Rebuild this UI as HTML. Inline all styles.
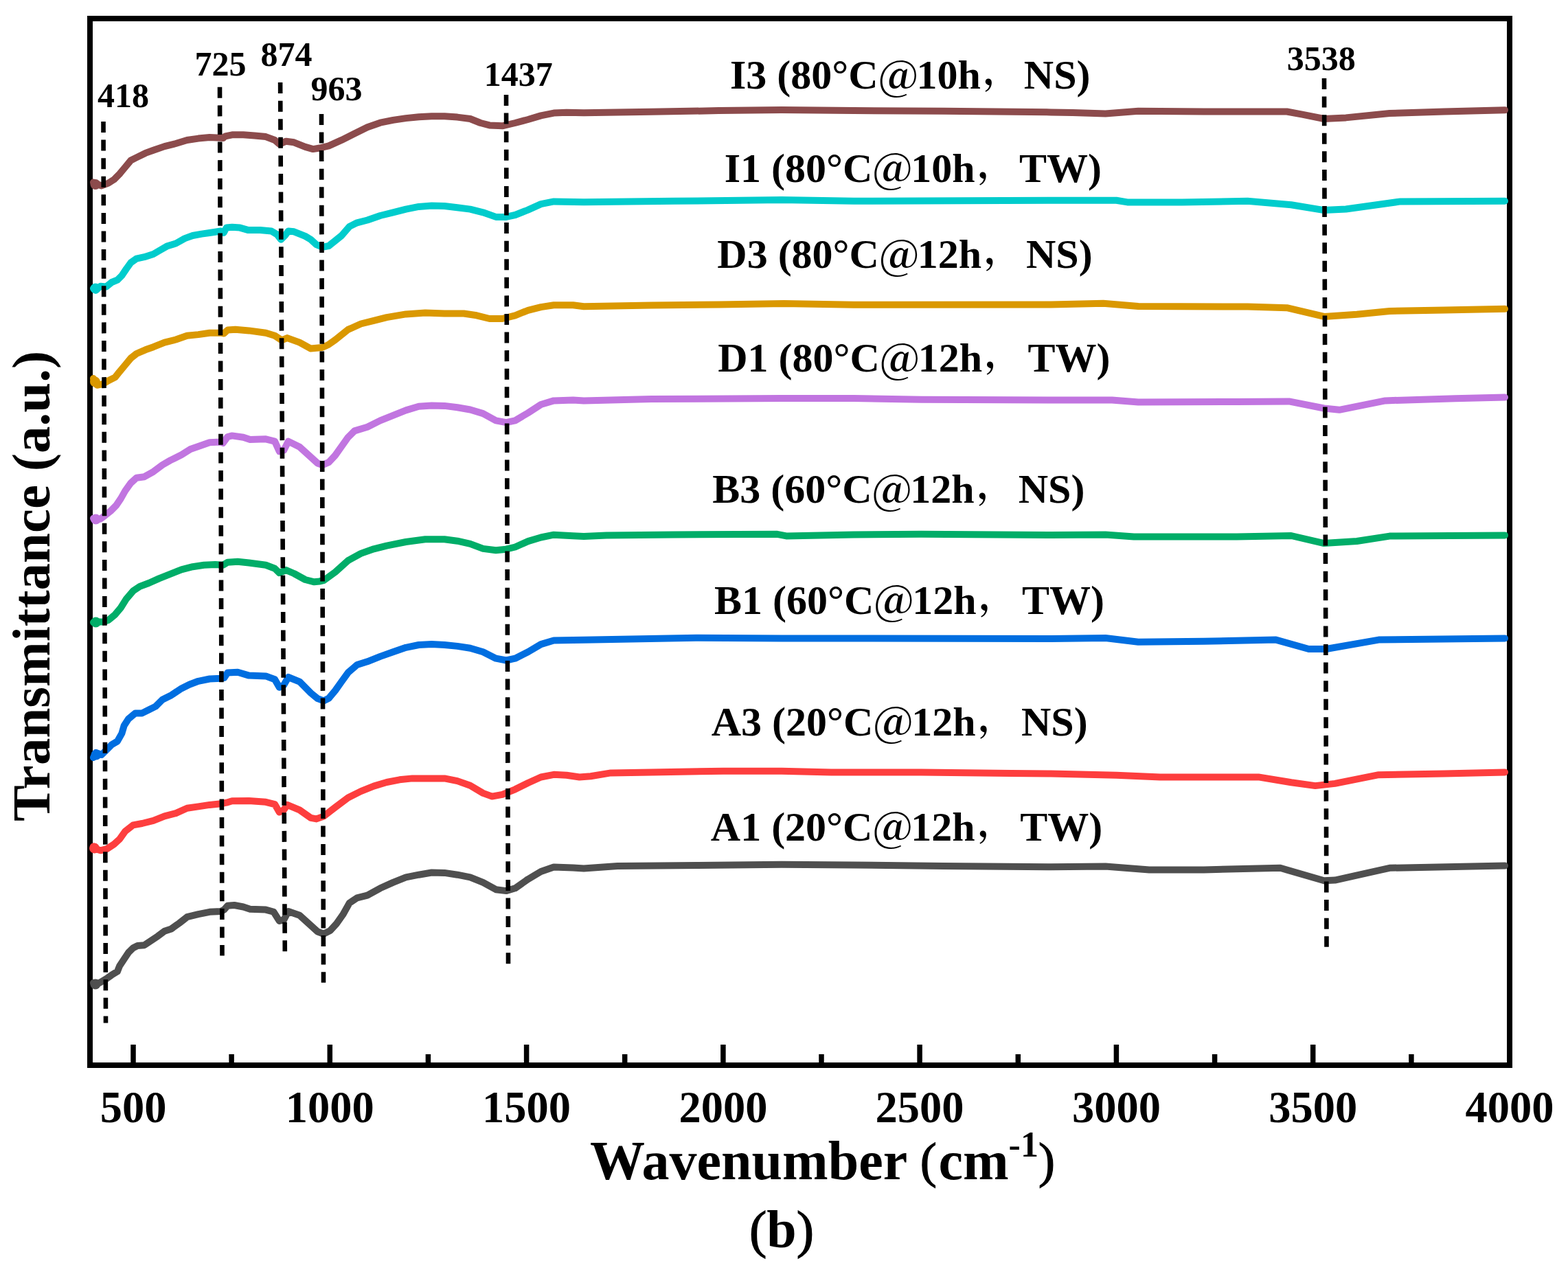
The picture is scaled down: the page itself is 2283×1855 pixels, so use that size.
<!DOCTYPE html>
<html><head><meta charset="utf-8"><title>FTIR spectra</title>
<style>
html,body{margin:0;padding:0;background:#fff;}
svg{display:block;}
text{font-family:"Liberation Serif","Noto Serif CJK SC",serif;font-weight:bold;fill:#000;}
.pr{font-weight:normal;stroke:#000;stroke-width:1.3px;}
.at{font-family:"Noto Serif CJK SC",serif;letter-spacing:-2.4px;}
.cj{font-family:"Noto Serif CJK SC","Liberation Serif",serif;}
</style></head><body>
<svg width="2283" height="1855" viewBox="0 0 2283 1855">
<rect width="2283" height="1855" fill="#fff"/>
<rect x="131" y="27" width="2067" height="1524" fill="none" stroke="#000" stroke-width="8"/>
<path d="M194.0 1548V1521 M480.3 1548V1521 M766.6 1548V1521 M1052.9 1548V1521 M1339.1 1548V1521 M1625.4 1548V1521 M1911.7 1548V1521 M337.1 1548V1535 M623.4 1548V1535 M909.7 1548V1535 M1196.0 1548V1535 M1482.3 1548V1535 M1768.6 1548V1535 M2054.9 1548V1535" stroke="#000" stroke-width="7.5" fill="none"/>
<g font-size="64.5" text-anchor="middle"><text x="194.0" y="1634">500</text><text x="480.3" y="1634">1000</text><text x="766.6" y="1634">1500</text><text x="1052.9" y="1634">2000</text><text x="1339.1" y="1634">2500</text><text x="1625.4" y="1634">3000</text><text x="1911.7" y="1634">3500</text><text x="2198.0" y="1634">4000</text></g>
<text x="859" y="1716.5" font-size="80">Wavenumber <tspan class="pr" font-size="72" dy="-3">(</tspan><tspan dy="3" dx="2.7">cm</tspan><tspan font-size="52" dy="-33">-1</tspan><tspan class="pr" font-size="72" dy="30">)</tspan></text>
<text x="1138" y="1816" font-size="78" text-anchor="middle"><tspan class="pr" font-size="76">(</tspan>b<tspan class="pr" font-size="76">)</tspan></text>
<text transform="translate(72 1196) rotate(-90)" font-size="79">Transmittance (a.u.)</text>
<g font-size="50"><text x="142.1" y="155.5">418</text><text x="283.5" y="110.4">725</text><text x="379.6" y="95.5">874</text><text x="452.5" y="145.9">963</text><text x="704.7" y="125.0">1437</text><text x="1873.8" y="101.9">3538</text></g>
<g font-size="60"><text x="1063.0" y="129.2">I3 (80°C<tspan class="at" dy="2.3">@</tspan><tspan dy="-2.3">10h</tspan><tspan class="cj" font-size="52" dx="4" dy="-7">，</tspan><tspan x="1490.8" dy="7">NS)</tspan></text><text x="1054.7" y="264.7">I1 (80°C<tspan class="at" dy="2.3">@</tspan><tspan dy="-2.3">10h</tspan><tspan class="cj" font-size="52" dx="4" dy="-7">，</tspan><tspan x="1484.0" dy="7">TW)</tspan></text><text x="1044.3" y="390.4">D3 (80°C<tspan class="at" dy="2.3">@</tspan><tspan dy="-2.3">12h</tspan><tspan class="cj" font-size="52" dx="4" dy="-7">，</tspan><tspan x="1494.0" dy="7">NS)</tspan></text><text x="1045.2" y="541.2">D1 (80°C<tspan class="at" dy="2.3">@</tspan><tspan dy="-2.3">12h</tspan><tspan class="cj" font-size="52" dx="4" dy="-7">，</tspan><tspan x="1496.6" dy="7">TW)</tspan></text><text x="1037.2" y="732.3">B3 (60°C<tspan class="at" dy="2.3">@</tspan><tspan dy="-2.3">12h</tspan><tspan class="cj" font-size="52" dx="4" dy="-7">，</tspan><tspan x="1482.7" dy="7">NS)</tspan></text><text x="1040.0" y="893.9">B1 (60°C<tspan class="at" dy="2.3">@</tspan><tspan dy="-2.3">12h</tspan><tspan class="cj" font-size="52" dx="4" dy="-7">，</tspan><tspan x="1488.0" dy="7">TW)</tspan></text><text x="1035.7" y="1071.1">A3 (20°C<tspan class="at" dy="2.3">@</tspan><tspan dy="-2.3">12h</tspan><tspan class="cj" font-size="52" dx="4" dy="-7">，</tspan><tspan x="1487.0" dy="7">NS)</tspan></text><text x="1034.8" y="1223.9">A1 (20°C<tspan class="at" dy="2.3">@</tspan><tspan dy="-2.3">12h</tspan><tspan class="cj" font-size="52" dx="4" dy="-7">，</tspan><tspan x="1485.2" dy="7">TW)</tspan></text></g>
<polyline points="136.0,265.5 139.7,267.9 147.9,270.4 157.8,266.6 166.0,261.4 174.1,253.2 182.3,243.4 190.5,233.5 198.7,229.4 211.8,222.9 223.3,218.8 239.6,213.1 256.0,209.0 272.4,204.0 288.8,201.6 305.2,200.0 321.5,200.8 325.0,201.0 328.1,198.3 337.9,196.3 354.3,196.3 370.7,197.5 387.0,199.1 400.1,204.0 406.7,209.8 416.5,205.7 428.0,207.3 444.4,213.9 455.8,217.1 465.6,215.5 478.7,212.4 497.4,203.9 516.2,194.6 534.9,185.2 553.6,178.7 572.3,174.9 591.0,172.1 609.7,170.2 628.5,169.3 647.2,169.3 665.9,170.6 684.6,173.0 699.6,179.0 712.7,182.4 731.4,183.3 750.1,179.0 768.8,174.0 787.6,168.4 806.3,164.6 825.0,163.7 850.0,164.2 948.0,162.8 1046.5,161.1 1138.0,160.1 1243.0,161.1 1374.0,161.8 1530.0,163.4 1561.8,164.0 1609.6,165.6 1657.3,161.8 1752.7,162.5 1873.7,162.5 1896.0,166.6 1927.8,173.0 1959.6,171.4 2023.2,165.0 2102.8,162.5 2191.0,160.2" fill="none" stroke="#8c4b4c" stroke-width="10" stroke-linejoin="round" stroke-linecap="round"/>
<polyline points="136.0,420.0 139.7,422.5 146.3,416.8 154.5,417.6 162.7,411.0 170.9,407.7 177.4,401.2 184.0,391.4 190.5,382.4 198.7,376.6 210.2,374.2 223.3,370.0 233.1,364.3 242.9,358.6 256.0,354.5 269.1,347.1 280.6,343.0 293.7,340.6 305.2,339.0 321.5,336.5 325.6,339.0 329.7,331.6 337.9,330.8 349.4,331.6 360.8,334.9 378.8,334.9 395.2,336.5 403.4,341.4 409.1,348.8 414.9,343.0 419.8,336.5 428.0,337.3 444.4,343.9 452.5,348.8 460.7,356.2 469.4,359.8 478.7,358.0 488.1,350.5 497.4,343.0 508.7,329.9 519.9,324.3 534.9,320.5 553.6,314.0 572.3,309.3 591.0,304.6 609.7,300.9 628.5,299.6 647.2,300.0 665.9,302.2 684.6,304.6 703.3,309.3 722.0,315.9 737.0,315.9 750.1,313.0 768.8,305.6 787.6,297.1 806.3,293.4 850.0,294.2 981.0,292.8 1138.0,291.1 1243.0,292.8 1530.0,291.8 1625.5,291.8 1641.4,294.4 1721.0,294.4 1816.4,292.8 1880.0,298.2 1927.8,306.1 1959.6,304.5 2039.0,293.4 2191.0,292.8" fill="none" stroke="#00cccc" stroke-width="10" stroke-linejoin="round" stroke-linecap="round"/>
<polyline points="136.0,551.0 136.5,554.3 141.4,560.8 149.6,559.2 157.8,554.3 167.6,549.4 174.1,541.2 182.3,531.4 190.5,521.5 198.7,515.0 211.8,509.3 223.3,505.2 239.6,498.6 256.0,494.5 272.4,488.8 288.8,487.1 305.2,484.7 321.5,484.7 326.0,485.5 331.4,480.6 342.8,479.8 362.5,481.4 387.0,484.7 400.1,488.8 410.0,495.3 418.2,492.1 436.2,498.6 452.5,507.6 468.9,506.0 478.0,502.0 488.1,494.9 506.8,479.9 525.5,471.5 544.2,466.8 563.0,462.1 591.0,457.4 619.1,455.6 647.2,456.5 675.3,456.5 694.0,459.3 712.7,464.0 731.4,464.0 750.1,459.3 768.8,451.8 787.6,447.1 806.3,444.3 834.4,444.3 850.0,446.2 948.3,444.4 1046.5,443.4 1141.5,442.1 1243.0,443.7 1530.0,443.4 1606.4,441.8 1657.3,446.0 1816.4,446.6 1873.7,448.2 1927.8,460.9 1975.5,457.7 2023.2,453.0 2102.8,451.4 2191.0,449.8" fill="none" stroke="#da9800" stroke-width="10" stroke-linejoin="round" stroke-linecap="round"/>
<polyline points="136.0,754.8 138.1,757.2 146.3,755.6 152.8,750.7 161.0,744.1 169.2,735.9 175.8,726.1 182.3,714.6 190.5,703.2 198.7,695.8 210.2,694.2 223.3,686.8 236.4,677.0 247.8,670.4 264.2,662.2 277.3,654.0 288.8,650.0 305.2,644.2 321.5,643.4 324.8,645.0 331.4,636.0 337.9,634.4 354.3,636.8 364.1,640.1 387.0,639.3 400.1,642.6 406.7,657.3 413.2,655.7 419.8,642.6 436.2,650.8 452.5,665.5 462.4,674.5 469.4,677.0 478.7,673.2 488.1,663.0 497.4,649.8 506.8,636.7 516.2,627.4 534.9,621.8 553.6,612.4 572.3,604.9 591.0,597.4 609.7,591.8 628.5,590.5 647.2,590.9 665.9,593.3 684.6,596.5 703.3,602.1 722.0,612.4 737.0,615.2 750.1,612.4 768.8,601.2 787.6,589.0 806.3,583.4 834.4,582.5 850.0,583.5 948.3,581.1 1138.2,580.1 1243.0,580.1 1341.3,581.8 1530.0,582.5 1619.1,582.5 1657.3,585.6 1800.5,585.0 1876.8,584.4 1927.8,594.5 1950.0,596.8 2016.9,583.4 2118.7,580.2 2191.0,578.6" fill="none" stroke="#c175e0" stroke-width="10" stroke-linejoin="round" stroke-linecap="round"/>
<polyline points="136.0,906.3 141.4,905.5 149.6,905.5 157.8,903.0 167.6,894.8 175.8,885.0 184.0,871.9 193.8,860.4 203.6,853.9 216.7,849.0 231.5,842.4 247.8,835.9 264.2,829.3 280.6,825.2 297.0,822.8 313.3,821.9 324.8,822.8 331.4,818.7 346.1,817.8 362.5,819.5 387.0,822.8 400.1,827.7 406.7,834.2 416.5,830.1 428.0,835.0 444.4,844.0 457.5,847.3 465.0,846.5 471.2,845.2 488.1,833.0 506.8,816.2 525.5,805.9 544.2,799.3 563.0,794.6 591.0,789.0 619.1,785.3 647.2,785.3 665.9,787.7 684.6,791.8 703.3,798.9 722.0,801.2 737.0,799.7 750.1,796.5 768.8,788.1 787.6,782.5 806.3,778.7 834.4,780.2 850.0,781.0 882.8,779.4 981.0,778.4 1131.7,777.8 1144.8,780.4 1243.0,778.4 1341.3,777.8 1530.0,779.0 1609.6,778.4 1650.9,781.6 1800.5,781.6 1880.0,780.0 1927.8,791.1 1975.5,788.0 2023.2,780.6 2191.0,779.4" fill="none" stroke="#00ad68" stroke-width="10" stroke-linejoin="round" stroke-linecap="round"/>
<polyline points="136.0,1103.1 139.7,1095.8 147.9,1099.0 154.5,1092.5 162.7,1084.3 170.9,1079.4 177.4,1067.9 180.7,1056.5 187.2,1046.6 197.1,1038.4 206.9,1038.4 216.7,1033.5 226.5,1028.6 236.4,1018.8 249.5,1012.2 264.2,1002.4 275.7,996.7 288.8,991.8 305.2,988.5 321.5,987.7 326.4,986.8 331.4,979.5 346.1,978.7 362.5,983.6 387.0,984.4 400.1,989.3 406.7,1000.8 413.2,997.5 419.8,986.0 436.2,992.6 452.5,1009.0 462.4,1017.1 471.2,1020.4 478.7,1016.7 488.1,1005.5 497.4,992.4 506.8,979.3 519.9,968.0 534.9,963.3 553.6,955.9 572.3,949.3 591.0,942.8 609.7,939.0 628.5,938.1 647.2,939.0 665.9,940.9 684.6,943.7 703.3,949.3 722.0,958.7 737.0,961.5 750.1,958.7 768.8,949.3 787.6,938.1 806.3,932.5 834.4,932.1 850.0,931.7 1013.8,928.7 1138.2,929.4 1243.0,929.4 1530.0,930.0 1609.6,929.0 1657.3,934.8 1752.7,933.8 1857.8,931.6 1905.5,945.0 1931.0,945.0 2007.3,931.6 2191.0,929.4" fill="none" stroke="#006ee0" stroke-width="10" stroke-linejoin="round" stroke-linecap="round"/>
<polyline points="136.0,1232.5 138.1,1235.8 146.3,1238.3 156.1,1235.8 166.0,1229.3 174.1,1221.9 182.3,1210.4 193.8,1201.4 206.9,1199.0 223.3,1194.9 239.6,1188.3 256.0,1184.2 272.4,1176.8 288.8,1174.4 305.2,1171.9 321.5,1170.3 329.7,1168.7 337.9,1166.2 362.5,1165.9 387.0,1167.8 400.1,1171.1 406.7,1182.6 413.2,1179.3 418.2,1171.9 436.2,1179.3 452.5,1190.8 460.7,1192.4 471.2,1188.6 488.1,1175.5 506.8,1161.5 525.5,1152.1 544.2,1144.6 563.0,1139.0 581.7,1135.3 600.4,1133.4 647.2,1133.4 665.9,1137.1 684.6,1143.7 703.3,1154.9 716.4,1159.6 731.4,1156.8 750.1,1149.3 768.8,1140.0 787.6,1131.5 806.3,1127.8 825.0,1128.7 843.7,1131.5 860.0,1130.2 889.3,1125.4 948.3,1124.4 1053.1,1122.8 1138.2,1122.8 1210.3,1124.4 1341.3,1124.4 1472.3,1126.0 1530.0,1126.6 1625.5,1128.8 1689.1,1131.4 1832.3,1131.4 1880.0,1139.3 1915.0,1144.1 1943.7,1140.9 2007.3,1128.2 2102.8,1126.6 2191.0,1124.4" fill="none" stroke="#fd3e3e" stroke-width="10" stroke-linejoin="round" stroke-linecap="round"/>
<polyline points="136.0,1431.0 138.1,1434.3 146.3,1430.2 154.5,1425.3 162.7,1419.6 170.9,1414.6 174.1,1406.5 180.7,1396.6 187.2,1386.8 193.8,1380.2 200.3,1377.0 210.2,1376.2 220.0,1369.6 229.8,1363.1 239.6,1355.7 249.5,1352.4 260.9,1344.2 272.4,1335.2 288.8,1331.1 305.2,1327.8 321.5,1327.0 326.4,1324.6 331.4,1318.8 341.2,1318.0 354.3,1320.5 364.1,1323.7 387.0,1324.6 398.5,1327.8 406.7,1340.9 413.2,1339.3 419.8,1327.0 436.2,1332.8 452.5,1347.5 462.4,1356.5 471.2,1359.8 480.6,1355.1 490.0,1344.8 499.3,1331.7 508.7,1314.9 519.9,1307.4 534.9,1303.6 553.6,1293.3 572.3,1284.9 591.0,1277.4 609.7,1273.7 628.5,1270.5 647.2,1270.9 665.9,1273.7 684.6,1277.4 703.3,1284.9 722.0,1295.2 737.0,1297.1 750.1,1293.3 768.8,1280.2 787.6,1269.0 806.3,1262.5 834.4,1263.4 850.0,1264.5 899.1,1261.0 1013.8,1260.0 1138.2,1258.7 1243.0,1259.4 1374.0,1261.0 1530.0,1262.2 1609.6,1261.6 1673.2,1266.4 1752.7,1266.4 1864.1,1263.8 1927.8,1282.3 1943.7,1281.6 2023.2,1263.8 2191.0,1260.6" fill="none" stroke="#4f4f4f" stroke-width="10" stroke-linejoin="round" stroke-linecap="round"/>
<circle cx="139" cy="268.5" r="7.5" fill="#8c4b4c"/>
<circle cx="139" cy="420" r="7.5" fill="#00cccc"/>
<circle cx="138.5" cy="556" r="7.5" fill="#da9800"/>
<circle cx="139.5" cy="756" r="7.5" fill="#c175e0"/>
<circle cx="139.5" cy="906" r="7.5" fill="#00ad68"/>
<circle cx="140" cy="1099" r="7.5" fill="#006ee0"/>
<circle cx="137.5" cy="1235" r="7.5" fill="#fd3e3e"/>
<circle cx="139" cy="1433" r="7.5" fill="#4f4f4f"/>
<g stroke="#000" stroke-width="6.6" stroke-dasharray="16 10.58" fill="none"><line x1="150.5" y1="177" x2="154" y2="1489.5"/><line x1="320" y1="126.8" x2="323.5" y2="1391.4"/><line x1="408.1" y1="120.1" x2="414.8" y2="1385.6"/><line x1="468" y1="165.9" x2="471" y2="1430.7"/><line x1="737" y1="138" x2="740" y2="1403.7"/><line x1="1928" y1="114" x2="1931.5" y2="1378.8"/></g>
</svg>
</body></html>
